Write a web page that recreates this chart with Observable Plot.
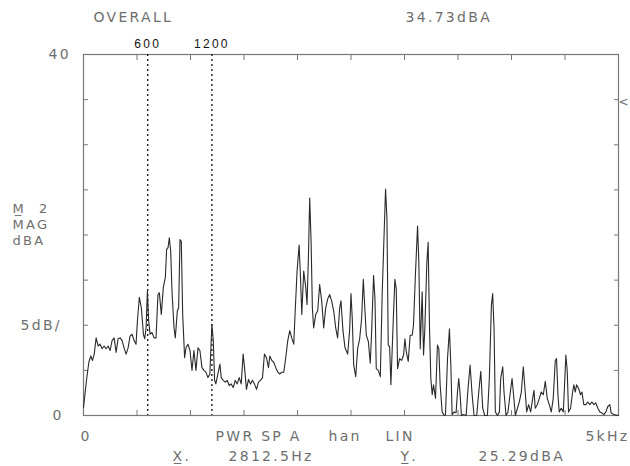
<!DOCTYPE html>
<html>
<head>
<meta charset="utf-8">
<script src="https://cdn.jsdelivr.net/npm/d3@7"></script>
<script src="https://cdn.jsdelivr.net/npm/@observablehq/plot@0.6"></script>
<style>
  html, body { margin: 0; padding: 0; background: #fff; }
  #chart { width: 630px; height: 466px; }
</style>
</head>
<body>
<div id="chart"></div>
<script>
// Spectrum trace (frequency in Hz, magnitude in dBA)
const freqHz = [
  0, 28, 50, 68, 84, 100, 118, 137, 155, 174, 193, 211, 230, 249, 267, 286, 305, 323, 342, 361,
  379, 398, 417, 435, 454, 473, 491, 504, 522, 541, 560, 572, 585, 597, 609, 622, 640, 659, 678, 696,
  709, 727, 746, 765, 777, 790, 802, 815, 827, 846, 858, 877, 889, 902, 914, 927, 945, 958, 976, 995,
  1014, 1032, 1051, 1070, 1088, 1107, 1126, 1144, 1163, 1181, 1200, 1213, 1225, 1237, 1256, 1275, 1287, 1306, 1324, 1343,
  1362, 1380, 1399, 1418, 1436, 1455, 1474, 1492, 1505, 1523, 1542, 1561, 1579, 1598, 1617, 1635, 1654, 1673, 1691, 1710,
  1729, 1741, 1760, 1778, 1797, 1816, 1834, 1853, 1872, 1890, 1909, 1928, 1946, 1965, 1977, 1996, 2015, 2027, 2040, 2058,
  2077, 2089, 2102, 2114, 2127, 2139, 2151, 2170, 2189, 2207, 2226, 2245, 2263, 2282, 2301, 2319, 2338, 2357, 2375, 2394,
  2406, 2425, 2444, 2469, 2487, 2500, 2512, 2525, 2544, 2562, 2581, 2599, 2615, 2631, 2643, 2662, 2680, 2693, 2711, 2724,
  2736, 2755, 2774, 2792, 2811, 2823, 2836, 2848, 2861, 2873, 2892, 2910, 2923, 2935, 2954, 2973, 2991, 3004, 3016, 3035,
  3053, 3072, 3084, 3103, 3122, 3134, 3147, 3165, 3178, 3190, 3209, 3221, 3234, 3246, 3259, 3271, 3290, 3308, 3321, 3333,
  3352, 3371, 3383, 3402, 3420, 3433, 3445, 3464, 3482, 3495, 3507, 3520, 3532, 3551, 3576, 3594, 3613, 3632, 3650, 3675,
  3694, 3713, 3731, 3750, 3775, 3793, 3812, 3824, 3837, 3849, 3868, 3887, 3899, 3918, 3930, 3949, 3967, 3986, 4005, 4017,
  4036, 4055, 4073, 4092, 4110, 4123, 4142, 4160, 4179, 4198, 4210, 4222, 4241, 4260, 4278, 4297, 4316, 4334, 4353, 4372,
  4390, 4409, 4421, 4434, 4446, 4465, 4484, 4496, 4508, 4521, 4533, 4552, 4571, 4583, 4596, 4608, 4627, 4645, 4658, 4676,
  4695, 4714, 4732, 4751, 4770, 4788, 4807, 4826, 4844, 4863, 4882, 4900, 4919, 4931, 4956, 5000
];
const levelDb = [
  0.9, 3.9, 5.9, 6.6, 6.1, 6.8, 8.6, 7.7, 7.9, 7.4, 7.7, 7.4, 7.7, 7.2, 8.3, 8.6, 7.0, 8.5, 8.6, 8.3,
  7.5, 6.8, 7.5, 8.8, 9.0, 8.3, 7.9, 10.5, 13.1, 11.9, 9.0, 8.5, 9.7, 13.8, 10.5, 9.0, 9.2, 8.6, 8.6, 13.4,
  13.6, 11.2, 14.2, 15.3, 18.4, 18.6, 19.7, 18.2, 13.8, 9.7, 8.6, 11.6, 11.9, 19.5, 19.3, 11.2, 6.4, 7.5, 7.9, 7.2,
  5.0, 7.2, 5.0, 7.5, 7.2, 5.3, 5.0, 4.8, 4.2, 4.6, 10.1, 8.3, 3.9, 3.5, 4.6, 5.7, 4.2, 3.9, 3.7, 3.9,
  3.3, 3.5, 3.1, 3.9, 3.5, 4.2, 3.5, 6.8, 5.3, 2.9, 4.0, 3.5, 3.9, 3.5, 2.9, 3.7, 3.9, 4.2, 6.8, 6.4,
  5.3, 6.6, 6.1, 5.9, 5.3, 4.8, 4.6, 4.8, 4.8, 6.4, 8.3, 9.4, 8.6, 7.9, 11.2, 16.0, 18.9, 15.6, 11.2, 16.0,
  14.2, 12.3, 17.5, 24.1, 19.3, 11.9, 9.7, 11.2, 11.6, 14.5, 12.7, 9.7, 11.9, 12.9, 13.4, 12.7, 11.6, 9.7, 8.6, 11.9,
  12.7, 9.4, 7.5, 6.8, 9.4, 13.5, 10.7, 5.6, 4.3, 7.4, 8.5, 10.7, 15.1, 11.5, 8.9, 8.2, 5.8, 9.3, 15.5, 12.9,
  5.2, 5.0, 4.3, 13.7, 20.7, 25.1, 21.8, 7.8, 7.6, 3.4, 9.6, 15.1, 14.0, 5.2, 6.3, 6.1, 6.7, 8.5, 7.1, 6.0,
  8.9, 8.9, 10.0, 15.9, 21.0, 17.0, 7.4, 13.7, 6.7, 9.6, 17.0, 19.2, 9.6, 4.1, 2.3, 3.4, 1.9, 7.8, 7.4, 3.4,
  0.4, 0.0, 0.1, 6.3, 9.6, 5.6, 0.1, 0.4, 0.3, 2.6, 4.1, 2.3, 0.0, 0.1, 0.0, 3.0, 5.6, 2.3, 0.0, 0.0,
  2.6, 4.9, 0.8, 0.0, 0.0, 4.1, 12.2, 13.5, 9.6, 0.4, 0.0, 0.4, 4.1, 5.4, 2.6, 0.0, 0.4, 2.3, 4.1, 2.6,
  0.0, 0.8, 1.5, 2.6, 5.4, 3.4, 0.4, 1.2, 0.4, 1.9, 2.8, 0.8, 1.2, 1.9, 2.6, 2.3, 3.8, 1.9, 1.2, 0.4,
  1.9, 6.1, 6.3, 2.3, 0.4, 0.8, 0.4, 3.4, 6.7, 4.9, 0.4, 0.8, 2.6, 3.4, 2.6, 3.4, 3.0, 2.3, 2.6, 1.2,
  1.2, 1.5, 1.2, 1.5, 1.2, 1.4, 0.8, 0.4, 0.3, 0.1, 0.4, 1.0, 1.2, 0.3, 0.1, 0.0
];

// Axis ticks and markers
const xTicks = [0, 500, 1000, 1500, 2000, 2500, 3000, 3500, 4000, 4500, 5000];
const yTicks = [0, 5, 10, 15, 20, 25, 30, 35, 40];
const markerHz = [600, 1200];
const overallDb = 34.73;

const data = freqHz.map((f, i) => ({f, db: levelDb[i]}));
const grey = "#6e6e6e";
const font = "DejaVu Sans, sans-serif";

const txt = (s, opts) => Plot.text([s], {
  text: d => d, fill: grey, fontSize: 14, fontFamily: font, lineAnchor: "middle",
  textAnchor: "start", ...opts
});
const yLabel = (v, s, dx) => Plot.text([v], {
  y: d => d, text: () => s, frameAnchor: "left", dx, textAnchor: "start",
  fill: grey, fontSize: 14, fontFamily: font, lineAnchor: "middle"
});

const chart = Plot.plot({
  width: 630,
  height: 466,
  marginLeft: 83,
  marginRight: 12,
  marginTop: 54,
  marginBottom: 51,
  x: {domain: [0, 5000]},
  y: {domain: [0, 40]},
  style: {background: "#fff", fontFamily: font, letterSpacing: "2.3px"},
  marks: [
    Plot.frame({stroke: "#777", strokeWidth: 1.2}),
    Plot.axisX({anchor: "bottom", ticks: xTicks, tickSize: -5, tickFormat: () => "", label: null, stroke: "#777"}),
    Plot.axisX({anchor: "top", ticks: xTicks, tickSize: -5, tickFormat: () => "", label: null, stroke: "#777"}),
    Plot.axisY({anchor: "left", ticks: yTicks, tickSize: -5, tickFormat: () => "", label: null, stroke: "#777"}),
    Plot.axisY({anchor: "right", ticks: yTicks, tickSize: -5, tickFormat: () => "", label: null, stroke: "#777"}),
    Plot.ruleX(markerHz, {x: d => d, stroke: "#111", strokeWidth: 1.3, strokeDasharray: "2,3"}),
    Plot.text(markerHz, {x: d => d, text: d => String(d), frameAnchor: "top", dy: -10, fill: "#111",
      fontSize: 12, fontFamily: "Liberation Sans, sans-serif", lineAnchor: "middle"}),
    Plot.line(data, {x: "f", y: "db", stroke: "#2a2a2a", strokeWidth: 1.1}),
    // y labels (left edges as in the reference)
    yLabel(40, "40", -35),
    yLabel(10, "5dB/", -63),
    yLabel(0, "0", -31),
    // cursor marker at overall level
    Plot.text([overallDb], {y: d => d, text: () => "<", frameAnchor: "right", dx: 0, textAnchor: "start",
      fill: grey, fontSize: 12, fontFamily: font, lineAnchor: "middle"}),
    // x end labels
    Plot.text([0], {x: d => d, text: () => "0", frameAnchor: "bottom", dy: 21, dx: -3, textAnchor: "start",
      fill: grey, fontSize: 14, fontFamily: font, lineAnchor: "middle"}),
    Plot.text([5000], {x: d => d, text: () => "5kHz", frameAnchor: "bottom", dy: 21, dx: 11, textAnchor: "end",
      fill: grey, fontSize: 14, fontFamily: font, lineAnchor: "middle"}),
    // header
    txt("OVERALL", {frameAnchor: "top-left", dx: 10, dy: -37}),
    txt("34.73dBA", {frameAnchor: "top-left", dx: 322, dy: -37}),
    // left label block
    txt("M\u0332  2", {frameAnchor: "top-left", dx: -71, dy: 154, fontSize: 13}),
    txt("MAG", {frameAnchor: "top-left", dx: -71, dy: 170, fontSize: 13}),
    txt("dBA", {frameAnchor: "top-left", dx: -71, dy: 186, fontSize: 13}),
    // footer
    txt("PWR SP A", {frameAnchor: "bottom-left", dx: 132, dy: 21}),
    txt("han", {frameAnchor: "bottom-left", dx: 245, dy: 21}),
    txt("LIN", {frameAnchor: "bottom-left", dx: 302, dy: 21}),
    txt("X\u0332.", {frameAnchor: "bottom-left", dx: 89, dy: 41}),
    txt("2812.5Hz", {frameAnchor: "bottom-left", dx: 145, dy: 41}),
    txt("Y\u0332.", {frameAnchor: "bottom-left", dx: 317, dy: 41}),
    txt("25.29dBA", {frameAnchor: "bottom-left", dx: 395, dy: 41})
  ]
});
// the cursor marker sits right at the edge: no extra letter spacing on it
d3.select(chart).selectAll("text").filter(function () { return this.textContent === "<"; })
  .style("letter-spacing", "0px");
document.getElementById("chart").appendChild(chart);
</script>
</body>
</html>
